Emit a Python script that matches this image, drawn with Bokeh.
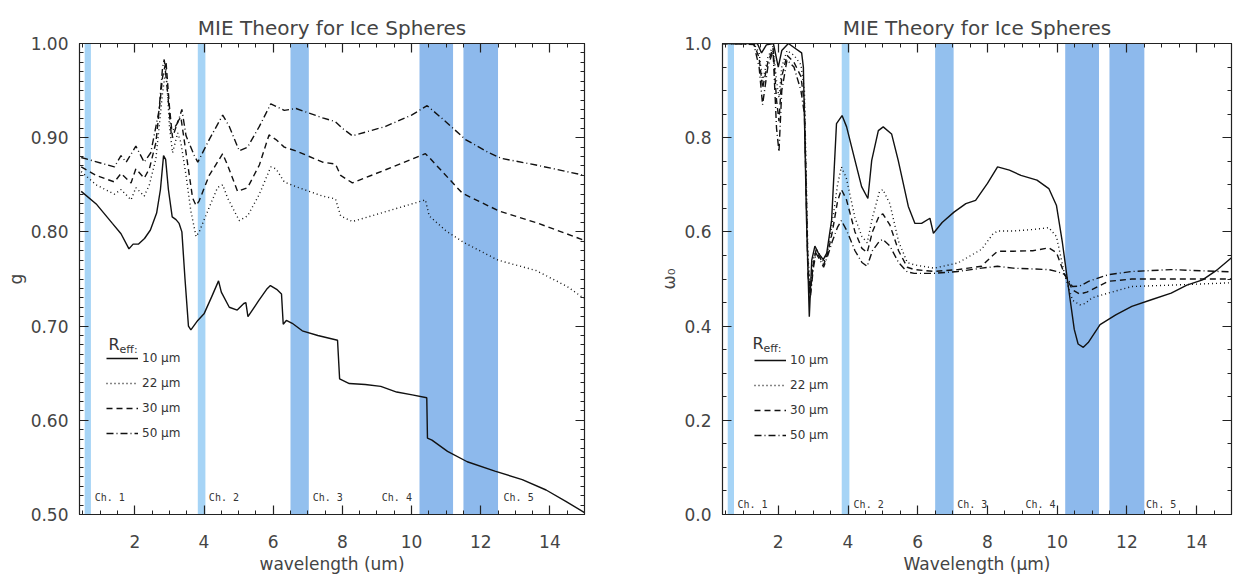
from bokeh.plotting import figure
from bokeh.models import (LinearAxis, SingleIntervalTicker, NumeralTickFormatter, Range1d,
                          BoxAnnotation, Legend, LegendItem, CustomJSTickFormatter)
from bokeh.layouts import row
from bokeh.embed import file_html
from bokeh.resources import INLINE
from bokeh.core.properties import value

# ---------------- data ----------------
sizes = ["10 \u03bcm", "22 \u03bcm", "30 \u03bcm", "50 \u03bcm"]

g_10um = [(0.45,0.843),(0.9,0.829),(1.35,0.809),(1.6,0.798),(1.83,0.782),(1.95,0.787),(2.1,0.787),
          (2.28,0.793),(2.45,0.802),(2.63,0.82),(2.74,0.845),(2.83,0.881),(2.89,0.877),(2.97,0.845),
          (3.08,0.816),(3.19,0.813),(3.28,0.809),(3.36,0.80),(3.45,0.75),(3.55,0.70),(3.62,0.696),
          (3.82,0.706),(4.0,0.713),(4.22,0.731),(4.42,0.748),(4.5,0.736),(4.73,0.72),(4.96,0.717),
          (5.15,0.724),(5.21,0.725),(5.27,0.71),(5.58,0.727),(5.81,0.739),(5.92,0.743),(6.1,0.739),
          (6.24,0.734),(6.29,0.702),(6.38,0.706),(6.55,0.703),(6.84,0.695),(7.29,0.69),(7.86,0.685),
          (7.92,0.644),(8.2,0.639),(8.66,0.638),(9.11,0.636),(9.57,0.63),(10.02,0.627),(10.44,0.624),
          (10.46,0.581),(10.59,0.579),(11.04,0.567),(11.61,0.556),(12.41,0.546),(13.2,0.537),
          (13.89,0.526),(14.46,0.514),(15.0,0.502)]
g_22um = [(0.45,0.864),(0.88,0.85),(1.41,0.84),(1.6,0.845),(1.89,0.834),(2.03,0.847),(2.27,0.838),
          (2.42,0.85),(2.61,0.878),(2.8,0.947),(2.9,0.974),(3.0,0.912),(3.09,0.884),(3.24,0.905),
          (3.33,0.895),(3.48,0.86),(3.62,0.822),(3.77,0.795),(3.86,0.80),(4.15,0.826),(4.39,0.847),
          (4.54,0.85),(4.68,0.836),(5.02,0.812),(5.26,0.817),(5.6,0.84),(5.93,0.869),(6.08,0.867),
          (6.32,0.853),(6.66,0.848),(7.43,0.838),(7.8,0.835),(7.95,0.817),(8.29,0.811),(9.3,0.822),
          (10.4,0.834),(10.51,0.817),(11.0,0.801),(11.5,0.789),(12.5,0.77),(13.6,0.759),
          (14.5,0.742),(15.0,0.729)]
g_30um = [(0.45,0.869),(0.88,0.86),(1.41,0.853),(1.6,0.862),(1.89,0.852),(2.03,0.867),(2.27,0.857),
          (2.42,0.867),(2.61,0.895),(2.8,0.964),(2.9,0.981),(3.0,0.933),(3.09,0.9),(3.24,0.917),
          (3.33,0.922),(3.48,0.884),(3.67,0.836),(3.77,0.828),(3.86,0.833),(4.15,0.86),(4.54,0.883),
          (4.68,0.871),(4.97,0.843),(5.26,0.847),(5.6,0.871),(5.88,0.903),(6.08,0.898),(6.32,0.89),
          (6.66,0.886),(7.43,0.874),(7.8,0.872),(7.95,0.86),(8.29,0.852),(9.25,0.866),(10.4,0.883),
          (10.51,0.879),(11.47,0.841),(12.54,0.822),(13.59,0.81),(15.0,0.791)]
g_50um = [(0.45,0.879),(1.41,0.869),(1.6,0.881),(1.75,0.874),(2.03,0.891),(2.27,0.874),(2.46,0.884),
          (2.7,0.929),(2.8,0.974),(2.85,0.983),(2.95,0.947),(3.05,0.905),(3.24,0.916),(3.36,0.93),
          (3.48,0.902),(3.72,0.881),(3.82,0.874),(4.15,0.898),(4.54,0.924),(4.73,0.912),(5.02,0.886),
          (5.26,0.89),(5.6,0.912),(5.93,0.936),(6.32,0.929),(6.66,0.931),(7.43,0.921),(7.8,0.917),
          (8.0,0.91),(8.29,0.902),(9.25,0.912),(10.0,0.924),(10.45,0.934),(10.99,0.917),(11.56,0.898),
          (12.24,0.884),(12.6,0.878),(13.6,0.871),(15.0,0.86)]

w_10um = [(0.35,1.0),(1.4,1.0),(1.52,0.98),(1.66,0.997),(1.86,1.0),(2.0,0.95),(2.1,0.985),(2.29,1.0),
          (2.48,0.99),(2.67,0.98),(2.72,0.95),(2.81,0.625),(2.89,0.42),(2.96,0.54),(3.05,0.57),
          (3.15,0.555),(3.29,0.541),(3.39,0.555),(3.53,0.625),(3.67,0.83),(3.83,0.847),(3.96,0.823),
          (4.2,0.752),(4.39,0.696),(4.57,0.671),(4.68,0.752),(4.87,0.815),(5.01,0.823),(5.25,0.808),
          (5.44,0.752),(5.73,0.654),(5.92,0.618),(6.11,0.618),(6.35,0.629),(6.45,0.597),(6.7,0.62),
          (7.04,0.642),(7.38,0.66),(7.66,0.667),(8.0,0.703),(8.29,0.738),(8.63,0.731),(8.96,0.72),
          (9.42,0.71),(9.76,0.692),(9.98,0.656),(10.15,0.577),(10.32,0.484),(10.49,0.393),
          (10.6,0.362),(10.75,0.355),(10.89,0.365),(11.23,0.403),(11.68,0.424),(12.14,0.442),
          (12.7,0.456),(13.27,0.47),(13.72,0.487),(14.17,0.498),(14.6,0.52),(15.0,0.545)]
w_22um = [(0.35,1.0),(1.3,1.0),(1.45,0.98),(1.55,0.92),(1.7,0.97),(1.85,0.995),(1.95,0.92),
          (2.02,0.885),(2.1,0.95),(2.25,0.985),(2.45,0.975),(2.65,0.955),(2.75,0.9),(2.85,0.55),
          (2.92,0.48),(3.0,0.54),(3.08,0.565),(3.2,0.55),(3.3,0.535),(3.42,0.56),(3.55,0.62),
          (3.7,0.70),(3.81,0.738),(3.95,0.715),(4.2,0.63),(4.4,0.59),(4.55,0.577),(4.7,0.63),
          (4.9,0.685),(5.0,0.69),(5.2,0.66),(5.45,0.58),(5.7,0.535),(5.9,0.53),(6.47,0.523),
          (7.15,0.534),(7.83,0.563),(8.15,0.595),(8.29,0.602),(8.74,0.602),(9.3,0.605),(9.76,0.609),
          (9.98,0.59),(10.21,0.51),(10.44,0.455),(10.65,0.445),(10.8,0.448),(11.0,0.46),
          (11.46,0.47),(12.14,0.484),(13.27,0.487),(15.0,0.492)]
w_30um = [(0.35,1.0),(1.3,0.999),(1.45,0.97),(1.55,0.905),(1.7,0.96),(1.85,0.99),(1.95,0.88),
          (2.02,0.835),(2.1,0.93),(2.25,0.975),(2.45,0.96),(2.65,0.93),(2.75,0.87),(2.85,0.53),
          (2.92,0.47),(3.0,0.53),(3.08,0.56),(3.2,0.545),(3.3,0.53),(3.42,0.555),(3.55,0.6),
          (3.7,0.665),(3.81,0.69),(3.95,0.67),(4.2,0.6),(4.4,0.565),(4.55,0.556),(4.7,0.6),
          (4.9,0.635),(5.0,0.638),(5.2,0.615),(5.45,0.56),(5.7,0.525),(5.9,0.52),(6.47,0.516),
          (7.15,0.52),(7.83,0.527),(8.15,0.55),(8.29,0.559),(8.74,0.559),(9.3,0.56),(9.76,0.566),
          (9.98,0.556),(10.21,0.51),(10.44,0.477),(10.65,0.468),(10.85,0.472),(11.46,0.495),
          (12.14,0.5),(13.27,0.5),(15.0,0.5)]
w_50um = [(0.35,1.0),(1.3,0.998),(1.45,0.95),(1.55,0.87),(1.7,0.95),(1.85,0.985),(1.95,0.82),
          (2.02,0.77),(2.1,0.9),(2.25,0.965),(2.45,0.95),(2.65,0.9),(2.75,0.85),(2.85,0.51),
          (2.92,0.46),(3.0,0.52),(3.08,0.555),(3.2,0.54),(3.3,0.525),(3.42,0.55),(3.55,0.58),
          (3.7,0.61),(3.81,0.624),(3.95,0.605),(4.2,0.56),(4.4,0.535),(4.55,0.527),(4.7,0.56),
          (4.9,0.58),(5.0,0.584),(5.2,0.57),(5.45,0.535),(5.7,0.515),(5.9,0.512),(6.47,0.512),
          (7.15,0.516),(7.83,0.523),(8.29,0.527),(8.74,0.523),(9.76,0.52),(9.98,0.516),(10.21,0.51),
          (10.44,0.484),(10.65,0.485),(10.9,0.495),(11.46,0.509),(12.14,0.516),(13.27,0.52),
          (15.0,0.515)]

# AVHRR channel bands (wavelength, um)
band_left = [0.55, 3.82, 6.5, 10.23, 11.5]
band_right = [0.73, 4.04, 7.03, 11.2, 12.5]
band_colors = ["#a6d4f6", "#a6d4f6", "#93c0ee", "#8db9ec", "#8db9ec"]
ch_labels = ["Ch. 1", "Ch. 2", "Ch. 3", "Ch. 4", "Ch. 5"]
ch_label_x_g = [0.84, 4.14, 7.14, 9.14, 12.66]
ch_label_x_w = [0.83, 4.16, 7.13, 9.09, 12.55]

dashes = ["solid", "1 3", "6 4", "7 3 1 3"]
TXT = "#444444"
FONT = "DejaVu Sans"
BLANK = CustomJSTickFormatter(code="return '';")


def style_axis(ax):
    ax.major_tick_in = 9
    ax.major_tick_out = 0
    ax.minor_tick_in = 4
    ax.minor_tick_out = 0
    ax.axis_line_color = "#222222"
    ax.major_tick_line_color = "#222222"
    ax.minor_tick_line_color = "#222222"
    ax.major_tick_line_width = 1.2
    ax.minor_tick_line_width = 1.0


def make_fig(title, xlabel, ylabel, y0, y1, yint, yminor, yfmt, width, bl, br):
    p = figure(width=width, height=576, min_border_left=bl, min_border_right=br,
               min_border_top=43, min_border_bottom=60, output_backend="svg",
               toolbar_location=None, x_range=Range1d(0.4, 15.0), y_range=Range1d(y0, y1),
               title=title)
    p.title.text_font = FONT
    p.title.text_font_size = "20px"
    p.title.text_font_style = "normal"
    p.title.text_color = TXT
    p.title.align = "center"
    p.title.standoff = 7
    p.grid.visible = False
    p.outline_line_color = "#222222"
    p.outline_line_width = 1.2
    p.background_fill_color = "white"
    xt = SingleIntervalTicker(interval=2, num_minor_ticks=4)
    yt = SingleIntervalTicker(interval=yint, num_minor_ticks=yminor)
    xb = p.below[0]
    yl = p.left[0]
    xb.ticker = xt
    yl.ticker = yt
    yl.formatter = NumeralTickFormatter(format=yfmt)
    xb.axis_label = xlabel
    yl.axis_label = ylabel
    for ax in (xb, yl):
        style_axis(ax)
        ax.major_label_text_font = FONT
        ax.major_label_text_color = TXT
        ax.major_label_text_font_size = "17px"
        ax.axis_label_text_font = FONT
        ax.axis_label_text_font_style = "normal"
        ax.axis_label_text_color = TXT
        ax.axis_label_text_font_size = "17px"
    xb.major_label_standoff = 20
    xb.axis_label_standoff = 3
    yl.major_label_standoff = 11
    yl.axis_label_standoff = 2
    top = LinearAxis(ticker=xt, formatter=BLANK, major_label_standoff=0)
    right = LinearAxis(ticker=yt, formatter=BLANK, major_label_standoff=0)
    for ax in (top, right):
        style_axis(ax)
    p.add_layout(top, "above")
    p.add_layout(right, "right")
    for l, r, c in zip(band_left, band_right, band_colors):
        p.add_layout(BoxAnnotation(left=l, right=r, fill_color=c, fill_alpha=1.0,
                                   line_alpha=0, level="underlay"))
    return p


def add_curves(p, series, ch_x, ch_y, reff_xy, leg_loc):
    items = []
    for pts, lab, dash in zip(series, sizes, dashes):
        xs = [a for a, b in pts]
        ys = [b for a, b in pts]
        r = p.line(xs, ys, line_color="#111111", line_width=1.4, line_dash=dash)
        items.append(LegendItem(label=lab, renderers=[r]))
    p.text(x=ch_x, y=[ch_y] * len(ch_x), text=ch_labels, text_font=value("DejaVu Sans Mono"),
           text_font_size="10px", text_color="#333333", text_baseline="middle", text_align="left")
    rx, ry = reff_xy
    p.text(x=[rx], y=[ry], text=["R"], text_font=value(FONT), text_font_size="16px",
           text_color="#333333", text_baseline="middle", text_align="left")
    p.text(x=[rx], y=[ry], text=["eff:"], text_font=value(FONT), text_font_size="11px",
           text_color="#333333", text_baseline="middle", text_align="left", x_offset=11, y_offset=5)
    leg = Legend(items=items, location=leg_loc, padding=0, margin=0, spacing=5,
                 glyph_width=32, glyph_height=20, label_height=20, label_standoff=4,
                 label_text_font=FONT, label_text_font_size="12px", label_text_color="#333333",
                 border_line_alpha=0, background_fill_alpha=0)
    p.add_layout(leg, "center")


p1 = make_fig("MIE Theory for Ice Spheres", "wavelength (um)", "g", 0.5, 1.0, 0.1, 10, "0.00", 604, 79, 20)
add_curves(p1, [g_10um, g_22um, g_30um, g_50um], ch_label_x_g, 0.518, (1.24, 0.68), (27, 71))

p2 = make_fig("MIE Theory for Ice Spheres", "Wavelength (\u03bcm)", "\u03c9\u2080", 0.0, 1.0, 0.2, 4, "0.0", 636, 118, 9)
add_curves(p2, [w_10um, w_22um, w_30um, w_50um], ch_label_x_w, 0.022, (1.26, 0.363), (32, 69))

layout = row(p1, p2)
open("out.html", "w").write(file_html(layout, INLINE))
